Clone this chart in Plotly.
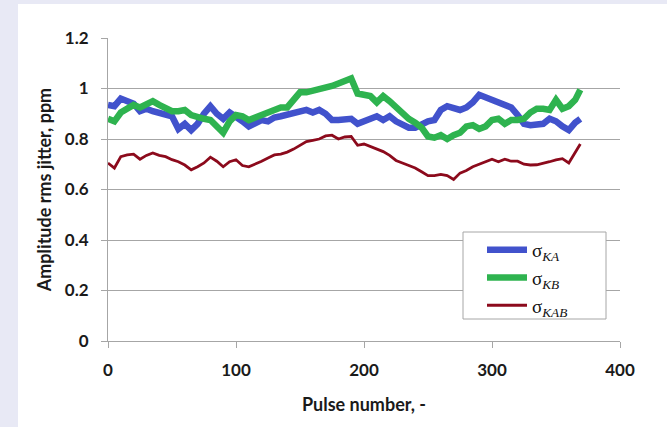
import plotly.graph_objects as go

pulse = [0, 5, 10, 15, 20, 25, 30, 35, 40, 45, 50, 55, 60, 65, 70, 75, 80, 85, 90, 95,
         100, 105, 110, 115, 120, 125, 130, 135, 140, 145, 150, 155, 160, 165, 170, 175,
         180, 185, 190, 195, 200, 205, 210, 215, 220, 225, 230, 235, 240, 245, 250, 255,
         260, 265, 270, 275, 280, 285, 290, 295, 300, 305, 310, 315, 320, 325, 330, 335,
         340, 345, 350, 355, 360, 365, 369]

sigma_ka = [0.935, 0.93, 0.96, 0.95, 0.94, 0.91, 0.92, 0.91, 0.905, 0.895, 0.89, 0.84, 0.86, 0.835,
            0.86, 0.9, 0.93, 0.9, 0.88, 0.905, 0.89, 0.87, 0.85, 0.865, 0.875, 0.87, 0.885, 0.89,
            0.895, 0.9, 0.91, 0.915, 0.905, 0.915, 0.9, 0.875, 0.875, 0.88, 0.88, 0.86, 0.87, 0.88,
            0.89, 0.875, 0.89, 0.87, 0.86, 0.845, 0.845, 0.86, 0.87, 0.875, 0.915, 0.93, 0.925,
            0.915, 0.925, 0.945, 0.975, 0.965, 0.96, 0.945, 0.94, 0.925, 0.895, 0.86, 0.855,
            0.855, 0.86, 0.88, 0.87, 0.85, 0.835, 0.865, 0.88]

sigma_kb = [0.88, 0.87, 0.905, 0.92, 0.935, 0.925, 0.935, 0.95, 0.935, 0.92, 0.91, 0.91, 0.915,
            0.895, 0.885, 0.88, 0.875, 0.85, 0.825, 0.87, 0.895, 0.89, 0.875, 0.885, 0.895, 0.905,
            0.92, 0.925, 0.925, 0.955, 0.985, 0.985, 0.99, 0.995, 1.005, 1.01, 1.02, 1.03, 1.04,
            0.98, 0.975, 0.97, 0.945, 0.97, 0.95, 0.925, 0.905, 0.88, 0.865, 0.845, 0.81, 0.805,
            0.815, 0.8, 0.815, 0.825, 0.85, 0.855, 0.84, 0.85, 0.875, 0.88, 0.86, 0.875, 0.875,
            0.88, 0.905, 0.92, 0.92, 0.915, 0.955, 0.92, 0.93, 0.955, 0.995]

sigma_kab = [0.705, 0.685, 0.73, 0.737, 0.74, 0.72, 0.735, 0.745, 0.735, 0.73, 0.718, 0.71, 0.697,
             0.678, 0.69, 0.705, 0.728, 0.712, 0.69, 0.71, 0.718, 0.695, 0.69, 0.7, 0.712, 0.725,
             0.737, 0.74, 0.748, 0.76, 0.775, 0.79, 0.795, 0.8, 0.812, 0.815, 0.8, 0.808, 0.81,
             0.775, 0.78, 0.77, 0.758, 0.75, 0.735, 0.715, 0.705, 0.695, 0.685, 0.67, 0.655, 0.655,
             0.66, 0.655, 0.64, 0.665, 0.675, 0.69, 0.7, 0.712, 0.72, 0.71, 0.72, 0.712, 0.712,
             0.7, 0.697, 0.698, 0.703, 0.71, 0.717, 0.722, 0.705, 0.745, 0.78]

y_ticks = [0, 0.2, 0.4, 0.6, 0.8, 1.0, 1.2]
y_tick_labels = ["0", "0.2", "0.4", "0.6", "0.8", "1", "1.2"]
x_ticks = [0, 100, 200, 300, 400]
x_tick_labels = ["0", "100", "200", "300", "400"]

names = ["σ<sub><i>KA</i></sub>", "σ<sub><i>KB</i></sub>", "σ<sub><i>KAB</i></sub>"]
colors = ["#4152cc", "#2eb34f", "#8c0a1c"]
widths = [6.5, 6.5, 2.8]

fig = go.Figure()
for ys, nm, c, w in zip([sigma_ka, sigma_kb, sigma_kab], names, colors, widths):
    fig.add_trace(go.Scatter(x=pulse, y=ys, mode="lines", name=nm,
                             line=dict(color=c, width=w)))

tick_font = dict(family="Lato, 'Open Sans', sans-serif", size=17, color="#1a1a1a", weight="bold")
title_font = dict(family="Lato, 'Open Sans', sans-serif", size=18, color="#1a1a1a", weight="bold")


def px_x(p):
    return (p - 108) / 512


def px_y(p):
    return (341 - p) / 303


fig.update_layout(
    width=667, height=427,
    margin=dict(l=108, r=47, t=38, b=86),
    paper_bgcolor="#e8e9f5",
    plot_bgcolor="white",
    showlegend=True,
    legend=dict(x=px_x(482), y=px_y(231), xanchor="left", yanchor="top",
                bgcolor="rgba(0,0,0,0)", borderwidth=0,
                font=dict(family="'Liberation Serif', 'DejaVu Serif', serif", size=19, color="#111"),
                tracegroupgap=0, itemwidth=40),
    xaxis=dict(range=[0, 400], tickvals=x_ticks, ticktext=x_tick_labels,
               showgrid=False, zeroline=False, showline=True, linecolor="#a6a6a6", linewidth=1,
               ticks="outside", ticklen=6, tickcolor="#a6a6a6", tickfont=tick_font,
               ticklabelstandoff=8,
               title=dict(text="Pulse number, -", font=title_font, standoff=18)),
    yaxis=dict(range=[0, 1.2], tickvals=y_ticks, ticktext=y_tick_labels,
               showgrid=True, gridcolor="#a6a6a6", gridwidth=1, zeroline=False,
               showline=True, linecolor="#a6a6a6", linewidth=1,
               ticks="outside", ticklen=6, tickcolor="#a6a6a6", tickfont=tick_font,
               ticklabelstandoff=9,
               title=dict(text="Amplitude rms jitter, ppm", font=title_font, standoff=8)),
    shapes=[dict(type="rect", xref="paper", yref="paper",
                 x0=px_x(18), x1=px_x(667), y0=px_y(427), y1=px_y(4),
                 fillcolor="white", line=dict(width=0), layer="below"),
            dict(type="rect", xref="paper", yref="paper",
                 x0=px_x(463), x1=px_x(606), y0=px_y(319), y1=px_y(232),
                 fillcolor="white", line=dict(width=1, color="#a6a6a6"), layer="above")],
)

fig.write_html("out.html", config={"displayModeBar": False},
               post_script="document.body.style.margin='0';document.body.style.overflow='hidden';")
